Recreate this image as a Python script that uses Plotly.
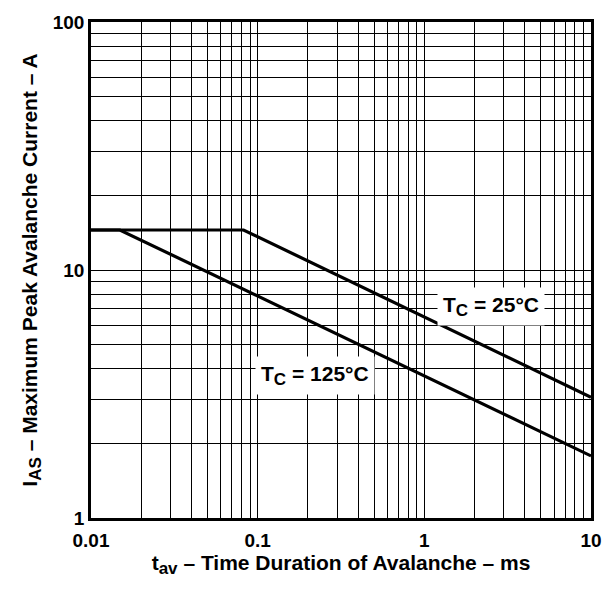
import plotly.graph_objects as go
import math

# Data
tav_25 = [0.01, 0.0823, 10]
ias_25 = [14.5, 14.5, 3.07]
tav_125 = [0.01, 0.0149, 10]
ias_125 = [14.5, 14.5, 1.78]

x_tickvals = [0.01, 0.1, 1, 10]
x_ticktext = ["0.01", "0.1", "1", "10"]
y_tickvals = [1, 10, 100]
y_ticktext = ["1", "10", "100"]

SUB = '<sub><span style="font-size:17px">{}</span></sub>'
label_25 = "T" + SUB.format("C") + " = 25°C"
label_125 = "T" + SUB.format("C") + " = 125°C"
label_25_pos = (2.5, 7.1)
label_125_pos = (0.222, 3.75)

x_title = "t" + SUB.format("av") + " – Time Duration of Avalanche – ms"
y_title = "I" + SUB.format("AS") + " – Maximum Peak Avalanche Current – A"

FONT = "Liberation Sans, Arial, sans-serif"

fig = go.Figure()
fig.add_trace(go.Scatter(x=tav_25, y=ias_25, mode="lines",
                         line=dict(color="black", width=3.2), showlegend=False))
fig.add_trace(go.Scatter(x=tav_125, y=ias_125, mode="lines",
                         line=dict(color="black", width=3.2), showlegend=False))

for txt, (ax, ay) in [(label_25, label_25_pos), (label_125, label_125_pos)]:
    fig.add_annotation(x=math.log10(ax), y=math.log10(ay), xref="x", yref="y",
                       text=f"<b>{txt}</b>", showarrow=False,
                       font=dict(family=FONT, size=21, color="black"),
                       bgcolor="white", borderpad=5)

axis_common = dict(
    type="log",
    showline=True, linecolor="black", linewidth=2.5, mirror=True,
    showgrid=True, gridcolor="black", gridwidth=1,
    ticks="", zeroline=False,
    tickfont=dict(family=FONT, size=19, color="black", weight="bold"),
    minor=dict(dtick="D1", showgrid=True, gridcolor="black", gridwidth=1, ticks=""),
)

fig.update_xaxes(**axis_common, range=[-2, 1], tickvals=x_tickvals, ticktext=x_ticktext,
                 ticklabelstandoff=3,
                 title=dict(text=f"<b>{x_title}</b>",
                            font=dict(family=FONT, size=21, color="black"), standoff=6))
fig.update_yaxes(**axis_common, range=[0, 2], tickvals=y_tickvals, ticktext=y_ticktext,
                 title=dict(text=f"<b>{y_title}</b>",
                            font=dict(family=FONT, size=21, color="black"), standoff=10))

fig.update_layout(
    width=614, height=592,
    margin=dict(l=91, r=16, t=13, b=74),
    paper_bgcolor="white", plot_bgcolor="white",
)

fig.write_html("out.html")
